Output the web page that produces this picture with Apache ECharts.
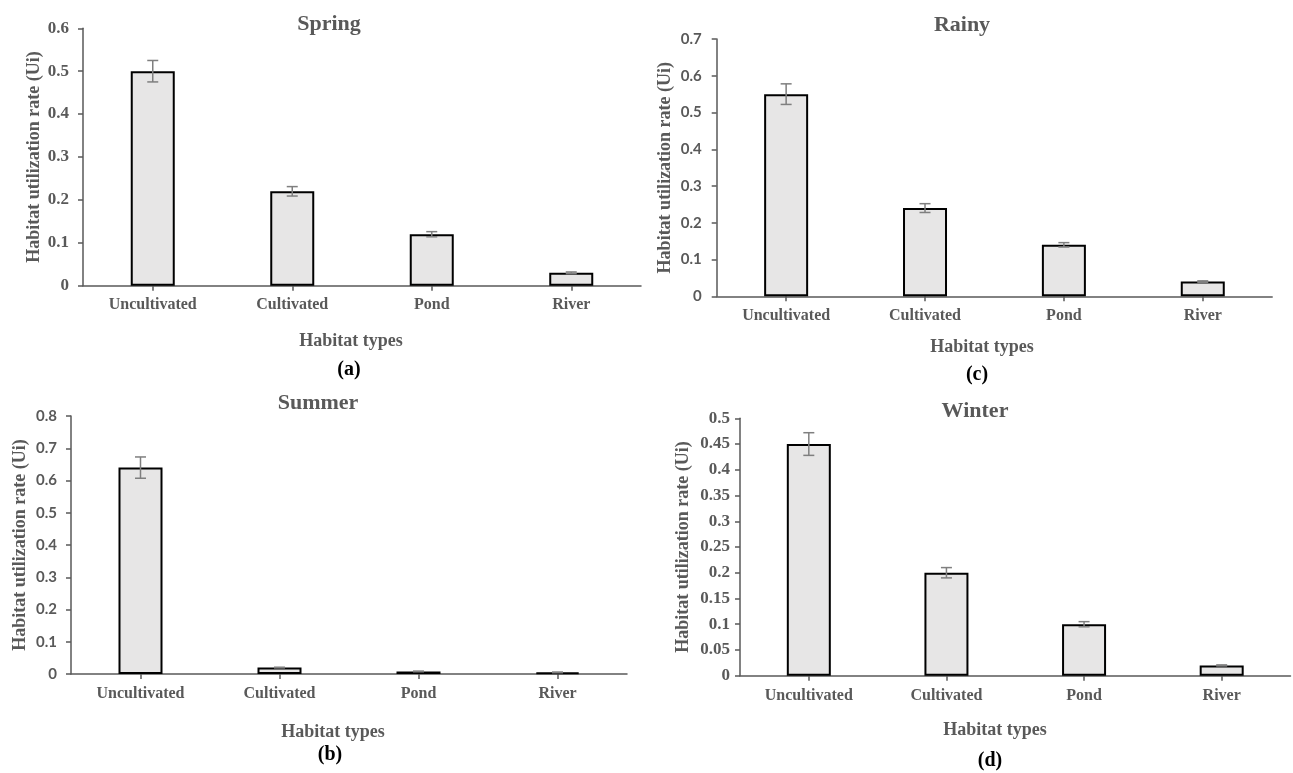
<!DOCTYPE html>
<html>
<head>
<meta charset="utf-8">
<script src="https://cdn.jsdelivr.net/npm/echarts@6/dist/echarts.min.js"></script>
<style>
  html, body { margin: 0; padding: 0; background: #ffffff; }
  #chart { width: 1293px; height: 773px; }
</style>
</head>
<body>
<div id="chart"></div>
<script>
// ---------- data ----------
const categories = ['Uncultivated', 'Cultivated', 'Pond', 'River'];

const springValues = [0.50, 0.22, 0.12, 0.03];
const springErrors = [0.025, 0.011, 0.006, 0.002];

const summerValues = [0.64, 0.02, 0.008, 0.005];
const summerErrors = [0.033, 0.001, 0.001, 0.001];

const rainyValues = [0.55, 0.24, 0.14, 0.04];
const rainyErrors = [0.028, 0.012, 0.006, 0.002];

const winterValues = [0.45, 0.20, 0.10, 0.02];
const winterErrors = [0.022, 0.010, 0.005, 0.001];

const panelTitles = ['Spring', 'Summer', 'Rainy', 'Winter'];
const panelLetters = ['(a)', '(b)', '(c)', '(d)'];
const yMaxes = [0.6, 0.8, 0.7, 0.5];
const yIntervals = [0.1, 0.1, 0.1, 0.05];
const xAxisTitle = 'Habitat types';
const yAxisTitle = 'Habitat utilization rate (Ui)';

// ---------- layout / style ----------
const SERIF = '"Liberation Serif", "Times New Roman", serif';
const SANS = 'Lato, "Liberation Sans", Arial, sans-serif';
const GRAY = '#595959';

const panels = [
  { values: springValues, errors: springErrors,
    grid: { left: 83, top: 28.3, width: 558, height: 257.4 },
    tickFont: SERIF, tickSize: 17, tickMargin: 14, nameGap: 40, catMargin: 11,
    title: [329, 24], xname: [351, 341], letter: [349, 370] },
  { values: summerValues, errors: summerErrors,
    grid: { left: 71, top: 416, width: 556, height: 258 },
    tickFont: SANS, tickSize: 15, tickMargin: 14, nameGap: 42, catMargin: 12,
    title: [318, 403], xname: [333, 732], letter: [330, 755] },
  { values: rainyValues, errors: rainyErrors,
    grid: { left: 716.7, top: 39, width: 555.5, height: 257.3 },
    tickFont: SANS, tickSize: 15, tickMargin: 15, nameGap: 42, catMargin: 12,
    title: [962, 25], xname: [982, 347], letter: [977, 375] },
  { values: winterValues, errors: winterErrors,
    grid: { left: 740, top: 418.3, width: 550.5, height: 257.4 },
    tickFont: SERIF, tickSize: 17, tickMargin: 10, nameGap: 48, catMargin: 12,
    title: [975, 411], xname: [995, 730], letter: [990, 761] }
];

const grids = [], xAxes = [], yAxes = [], series = [], graphics = [];

panels.forEach((p, i) => {
  grids.push(Object.assign({ containLabel: false }, p.grid));
  xAxes.push({
    type: 'category', gridIndex: i, data: categories,
    boundaryGap: true,
    axisLine: { lineStyle: { color: GRAY, width: 1.5 } },
    axisTick: { show: true, alignWithLabel: true, length: 5, lineStyle: { color: GRAY, width: 1.5 } },
    axisLabel: { color: GRAY, fontFamily: SERIF, fontWeight: 'bold', fontSize: 16, margin: p.catMargin },
    splitLine: { show: false }
  });
  yAxes.push({
    type: 'value', gridIndex: i, min: 0, max: yMaxes[i], interval: yIntervals[i],
    name: yAxisTitle, nameLocation: 'middle', nameRotate: 90, nameGap: p.nameGap,
    nameTextStyle: { color: GRAY, fontFamily: SERIF, fontWeight: 'bold', fontSize: 18 },
    axisLine: { show: true, lineStyle: { color: GRAY, width: 1.5 } },
    axisTick: { show: true, length: 5, lineStyle: { color: GRAY, width: 1.5 } },
    axisLabel: { color: GRAY, fontFamily: p.tickFont, fontWeight: 'bold', fontSize: p.tickSize, margin: p.tickMargin },
    splitLine: { show: false }
  });
  series.push({
    type: 'bar', xAxisIndex: i, yAxisIndex: i, data: p.values,
    barWidth: 44,
    itemStyle: { color: '#e7e6e6', borderColor: '#000000', borderWidth: 2 },
    silent: true, z: 2
  });
  series.push({
    type: 'custom', xAxisIndex: i, yAxisIndex: i, z: 3, silent: true,
    data: p.values.map((v, k) => [k, v, p.errors[k]]),
    renderItem: function (params, api) {
      const x = api.value(0), v = api.value(1), e = api.value(2);
      const hi = api.coord([x, v + e]);
      const lo = api.coord([x, v - e]);
      const half = 5.5;
      const st = { stroke: '#7f7f7f', lineWidth: 1.5 };
      return {
        type: 'group',
        children: [
          { type: 'line', shape: { x1: hi[0], y1: hi[1], x2: lo[0], y2: lo[1] }, style: st },
          { type: 'line', shape: { x1: hi[0] - half, y1: hi[1], x2: hi[0] + half, y2: hi[1] }, style: st },
          { type: 'line', shape: { x1: lo[0] - half, y1: lo[1], x2: lo[0] + half, y2: lo[1] }, style: st }
        ]
      };
    }
  });
  graphics.push({
    type: 'text', x: p.title[0], y: p.title[1],
    style: { text: panelTitles[i], fill: GRAY, font: 'bold 22px ' + SERIF, textAlign: 'center', textVerticalAlign: 'middle' }
  });
  graphics.push({
    type: 'text', x: p.xname[0], y: p.xname[1],
    style: { text: xAxisTitle, fill: GRAY, font: 'bold 18px ' + SERIF, textAlign: 'center', textVerticalAlign: 'middle' }
  });
  graphics.push({
    type: 'text', x: p.letter[0], y: p.letter[1],
    style: { text: panelLetters[i], fill: '#000000', font: 'bold 20px ' + SERIF, textAlign: 'center', textVerticalAlign: 'middle' }
  });
});

const chart = echarts.init(document.getElementById('chart'), null, { renderer: 'canvas' });
chart.setOption({
  backgroundColor: '#ffffff',
  animation: false,
  grid: grids,
  xAxis: xAxes,
  yAxis: yAxes,
  series: series,
  graphic: graphics
});
</script>
</body>
</html>
